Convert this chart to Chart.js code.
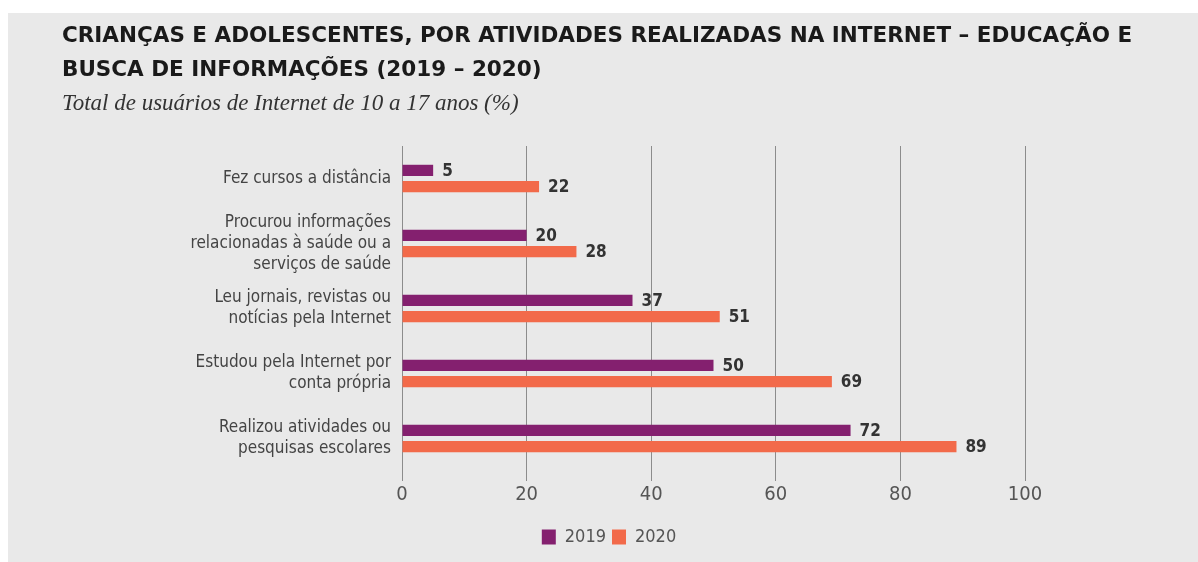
<!DOCTYPE html>
<html>
<head>
<meta charset="utf-8">
<script src="https://cdn.jsdelivr.net/npm/chart.js@4.4.1/dist/chart.umd.min.js"></script>
<style>
  body { margin: 0; background: #fff; }
  #panel { position: absolute; left: 8px; top: 13px; right: 0; bottom: 0; background: #e9e9e9; }
  #myChart { position: absolute; left: 0; top: 0; }
</style>
</head>
<body>
<div id="panel"></div>
<canvas id="myChart" width="1198" height="562"></canvas>
<script>
var categorias = [
  ["Fez cursos a distância"],
  ["Procurou informações", "relacionadas à saúde ou a", "serviços de saúde"],
  ["Leu jornais, revistas ou", "notícias pela Internet"],
  ["Estudou pela Internet por", "conta própria"],
  ["Realizou atividades ou", "pesquisas escolares"]
];
var anos = ["2019", "2020"];
var valores2019 = [5, 20, 37, 50, 72];
var valores2020 = [22, 28, 51, 69, 89];
var ticksX = [0, 20, 40, 60, 80, 100];

var narrow = "'Liberation Sans Narrow', 'DejaVu Sans Condensed', 'Arial Narrow', sans-serif";

// rotulos de valor na ponta das barras
var rotulosBarras = {
  id: 'rotulosBarras',
  afterDatasetsDraw(chart) {
    var ctx = chart.ctx;
    ctx.save();
    ctx.font = "bold 17px " + narrow;
    ctx.fillStyle = "#333";
    ctx.textBaseline = "middle";
    ctx.textAlign = "left";
    chart.data.datasets.forEach((ds, i) => {
      chart.getDatasetMeta(i).data.forEach((bar, j) => {
        ctx.fillText(ds.data[j], bar.x + 9, bar.y + 1);
      });
    });
    ctx.restore();
  }
};

new Chart("myChart", {
  type: "bar",
  data: {
    labels: categorias,
    datasets: [{
      label: anos[0],
      data: valores2019,
      backgroundColor: "#84206f",
      categoryPercentage: 0.5,
      barPercentage: 0.69
    }, {
      label: anos[1],
      data: valores2020,
      backgroundColor: "#f26a4a",
      categoryPercentage: 0.5,
      barPercentage: 0.69
    }]
  },
  options: {
    indexAxis: "y",
    responsive: false,
    animation: false,
    layout: { padding: { left: 62, right: 42, top: 0, bottom: 6 } },
    scales: {
      x: {
        min: 0,
        max: 100,
        afterBuildTicks: (axis) => { axis.ticks = ticksX.map(v => ({ value: v })); },
        grid: { color: "#8c8c8c", lineWidth: 1, tickLength: 10 },
        border: { display: false },
        ticks: { color: "#555", padding: 2, font: { family: narrow, size: 20 } },
        afterFit: (axis) => { axis.height = 51; }
      },
      y: {
        grid: { display: false, drawTicks: false },
        border: { display: false },
        ticks: { color: "#444", padding: 11, autoSkip: false, font: { family: narrow, size: 17, lineHeight: "21px" } },
        afterFit: (axis) => { axis.width = 340; }
      },
      y2: {
        type: "linear",
        position: "right",
        display: true,
        grid: { display: false, drawTicks: false },
        border: { display: false },
        ticks: { display: false },
        afterFit: (axis) => { axis.width = 131; }
      }
    },
    plugins: {
      title: {
        display: true,
        align: "start",
        text: ["CRIANÇAS E ADOLESCENTES, POR ATIVIDADES REALIZADAS NA INTERNET – EDUCAÇÃO E", "BUSCA DE INFORMAÇÕES (2019 – 2020)"],
        color: "#1a1a1a",
        font: { family: "'DejaVu Sans', sans-serif", size: 21.5, weight: "bold", lineHeight: "34px" },
        padding: { top: 19, bottom: 4 }
      },
      subtitle: {
        display: true,
        align: "start",
        text: "Total de usuários de Internet de 10 a 17 anos (%)",
        color: "#333",
        font: { family: "'Liberation Serif', 'DejaVu Serif', serif", size: 23, style: "italic", lineHeight: "26px" },
        padding: { top: 0, bottom: 29 }
      },
      legend: {
        position: "bottom",
        labels: {
          boxWidth: 14,
          boxHeight: 15,
          padding: 6,
          color: "#555",
          font: { family: narrow, size: 18 }
        }
      },
      tooltip: { enabled: false }
    }
  },
  plugins: [rotulosBarras]
});
</script>
</body>
</html>
